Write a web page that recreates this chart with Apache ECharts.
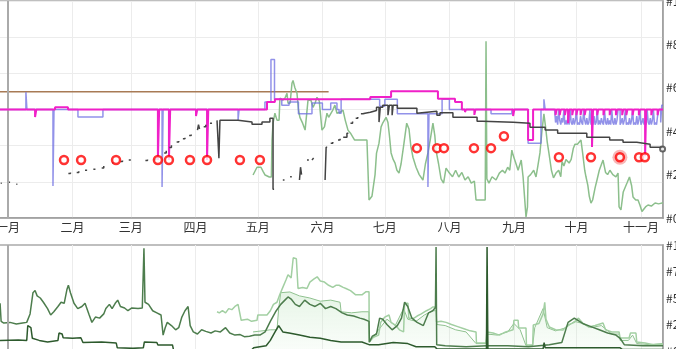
<!DOCTYPE html>
<html><head><meta charset="utf-8">
<script src="https://cdn.jsdelivr.net/npm/echarts@6/dist/echarts.min.js"></script>
<style>html,body{margin:0;padding:0;background:#fff}#c{width:676px;height:349px}</style>
</head><body><div id="c"></div>
<script>
// day offsets are days since 1 Jan 2023
const monthNames = ['一月','二月','三月','四月','五月','六月','七月','八月','九月','十月','十一月','十二月'];
const topTicks = [0,20,40,60,80,100];
const bottomTicks = [0,25,50,75,100];

const brownData = [[-4.5,58.2],[154,58.2]];

const magentaData = [[-4.5,50],[13,46.5],[13.6,50],[22.6,51],[28.8,50],[72,26.7],[72.6,50],[77.3,26.7],[77.9,50],[90.3,47],[90.9,50],[95.6,26.7],[96.2,50],[124.4,53.4],[128.2,54.7],[174,55.8],[184,58.4],[206.5,54.9],[214.7,53.5],[218,50],[219.5,48.8],[220,50],[224,47.5],[224.5,50],[242.6,47],[243.2,50],[249.8,36],[252.2,50],[263,47.4],[263.5,50],[265,47.4],[265.5,50],[267.5,47.4],[268,50],[269,43.7],[269.5,50],[271,47.4],[271.5,50],[273,47.4],[273.5,50],[275,47.4],[275.5,50],[277,47.4],[277.5,50],[280.5,32.7],[281,50],[283,47.4],[283.5,50],[286,47.4],[286.5,50],[289,47.4],[289.5,50],[292,47.4],[292.5,50],[295,47.4],[295.5,50],[297,47.4],[297.5,50],[300,47.4],[300.5,50],[303,47.4],[303.5,50],[306,28.5],[306.5,50],[309,47.4],[309.5,50],[312,47.4],[312.5,50],[314.6,50]];

const blueData = [[-4.5,50],[8.6,58],[9.1,50],[21.6,14.7],[22.1,50],[33.6,46.5],[45.6,50],[74,14.3],[74.5,50],[110.5,45],[111,50],[123.4,53.4],[126.3,73],[128,54.7],[131.5,52],[135,53.5],[139.5,48],[146,53],[151,50],[155,53],[158,50],[159,48.3],[160,54.7],[178.5,51.5],[181,54.7],[187,48],[201.7,14.3],[202.2,48],[208.5,54.7],[212,50],[232,48],[242,50],[249.8,34.5],[256,50],[257.4,54.7],[258,50],
[262.5,50],[263,44],[263.5,47],[264,43],[264.5,50],[265,45],[265.5,43],[266,46],[266.5,44],[267,50],[267.5,43],[268,45],[268.5,43],[269,47],[269.5,43],[270,50],[270.5,44],[271,43],[271.5,46],[272,43],[272.5,45],[273,50],[273.5,43],[274,44],[274.5,43],[275,47],[275.5,44],[276,43],[276.5,50],[277,45],[277.5,43],[278,46],[278.5,43],[279,44],[279.5,50],[280,43],[280.5,45],[281,43],[281.5,47],[282,43],[282.5,44],[283,50],[283.5,43],[284,45],[284.5,43],[285,46],[285.5,44],[286,43],[286.5,50],[287,44],[287.5,43],[288,46],[288.5,43],[289,45],[289.5,43],[290,50],[290.5,44],[291,43],[291.5,46],[292,43],[292.5,45],[293,50],[294,43],[294.5,44],[295,46],[295.5,43],[296,45],[296.5,50],[297,43],[297.5,44],[298,43],[298.5,46],[299,43],[299.5,45],[300,50],[300.5,43],[301,44],[301.5,43],[302,47],[302.5,43],[303,45],[303.5,50],[304,43],[304.5,44],[305,46],[305.5,43],[306,45],[306.5,43],[307,50],[307.5,44],[308,43],[308.5,46],[309,43],[309.5,45],[310,50],[310.5,43],[311,44],[311.5,43],[312,47],[312.5,50],[313.5,44],[314,52],[314.6,52]];

const blackData = [[-3.5,16],[-3,16],[-2.9,null],[0.5,16.5],[1,16.5],[1.1,null],[4,15.5],[4.5,15.5],[4.6,null],
[29,20.5],[30,21],[30.1,null],[33,21],[34,21.5],[34.1,null],[37,22],[38,22],[38.1,null],[41,22.5],[42,22.5],[42.1,null],[45,23],[46,24],[46.1,null],
[50,25.5],[51,25.7],[51.1,null],[54,26],[55,26.5],[55.1,null],[58,26.7],[59,27],[59.1,null],[66,26.5],[67,27],[67.1,null],[70,27],[71,27.6],[71.1,null],
[75,30],[76,31],[76.1,null],[77.5,32.5],[78.5,33.5],[78.6,null],[81,35],[82,35.5],[82.1,null],[84,36.5],[85,37],[85.1,null],[87,38],[88,38.5],[88.1,null],
[91,40.5],[91.5,43],[92,41],[92.1,null],[94,42],[95,43],[95.1,null],[97,43.7],[98,43.7],[98.1,null],
[100.4,45],[101.3,27.6],[101.8,45],[110.5,44.2],[117.2,43.2],[122,44.2],[125.8,46],[127.3,13.3],[127.8,13.3],[127.9,null],
[132,17.5],[132.8,17.5],[132.9,null],[135.5,19],[136.3,19],[136.4,null],[140,17.5],[140.5,23.4],[141,20],[141.1,null],[143.6,26.7],[144.5,26.7],[144.6,null],[146,26.7],[146.8,27.6],[146.9,null],
[152.3,17.5],[152.8,32.6],[153.3,32.6],[153.4,null],[155,34.5],[156,35],[156.1,null],[158.5,36],[159.5,36.5],[159.6,null],[161,37.2],[162.8,39.1],[163.5,39.1],[163.6,null],
[164.5,43.7],[165.5,44.5],[165.6,null],[167,46],[168,46.5],[168.1,null],
[169.5,48],[170.5,48.3],[171.5,48.7],[174,49.5],[177,51],[178.2,44.2],[178.8,51],[180,52],[182.5,47.4],[183.2,52],[184.5,47.4],[185,52],[187,50.6],[196.4,48.3],[196.9,49.2],[206,47.4],[207.5,48.5],[213.7,46.4],[225.3,44.6],[228,44.1],[242.6,43.7],[250.7,41.8],[258,40.5],[264,39.1],[278,37.2],[289,35.9],[295.4,34.9],[302,34],[308.4,32.6],[314.6,32.6]];
const blackEnd = [[314.4,31.8]];

const greenTopData = [[117.7,19.8],[118.5,20.7],[119.6,23.4],[120.5,22.5],[121.5,23.4],[122.5,21.5],[123.5,19.8],[124.4,19.8],[125.5,18.9],[126.5,18.9],[126.8,35.9],[127.3,43.7],[128.2,48.3],[129.2,45.1],[130.2,45.1],[130.6,55.2],[132,54.3],[133,55.2],[134,57.5],[134.5,52.9],[135.5,52.9],[136.4,62.1],[136.9,63.4],[137.8,60],[138.8,57.5],[139.5,50],[140.2,46.4],[141.5,43.7],[142.7,40.5],[143.5,48.3],[144.1,54.3],[145.5,54.3],[146.5,51],[147.5,53],[148.4,55.6],[149.5,54],[150.8,40.5],[152,42],[153.2,48.3],[154,46.4],[154.7,47],[156,49.7],[157,52],[158,48.3],[159.5,48.7],[160.9,49.7],[162,45],[163.3,40.5],[164.5,39.1],[165.7,37.2],[166.5,35.9],[167.6,35.9],[170,35.9],[172.4,35.9],[173.4,8.3],[174.8,10],[176.3,20],[177,29.9],[178.2,34.5],[179.2,42],[180.1,44],[181.6,46.4],[182.5,44],[183.2,38],[184,30],[185,27],[185.9,25.3],[186.8,22],[187.8,20.7],[188.8,25],[190.2,34.5],[191.5,43.7],[192.6,41],[193.5,33],[194.5,28],[196,23.4],[197.5,20],[199.3,17.5],[200.5,25],[201.7,30],[202.8,36],[204.1,43.7],[205,38],[205.6,31],[206.8,25],[208,18],[209.2,16.1],[210.4,23],[212,20.7],[213.5,19],[215,22],[216.5,18.9],[218,21],[219.5,17.5],[221,19],[222.5,16.1],[224,17],[224.8,8.3],[227,8.3],[229.2,8.3],[229.6,81.4],[230,18],[231,16.1],[232.5,19],[234.4,17.5],[236,20.7],[237.5,22],[238.7,20.7],[240,23.4],[241,22],[242,31.3],[242.6,29],[244,25],[245,22],[246.5,26.7],[247.4,18.9],[248.3,18.9],[248.8,0.5],[249.5,5],[249.8,18.9],[251,20],[252.5,22],[253.6,18.9],[254.5,24],[255.5,30],[256.5,40.5],[257.4,48],[258.2,42],[259,35],[259.8,30],[261,22],[262,18.5],[263.2,20.7],[264.5,22],[265.5,19],[266.1,26],[267,24],[268,27],[269.5,25.3],[270.5,27],[271.5,32],[272.3,34],[273.5,34],[275.2,35.9],[276,30],[277,22],[277.6,19],[278.5,15],[279.2,10],[280,6.9],[280.8,8.3],[282,14],[282.9,17.5],[284,22],[285.8,26.7],[287,21],[288,20],[289.1,22],[290.5,20],[292,19],[293,20.7],[293.5,5.1],[294.4,3.7],[295.5,12],[297.3,16.1],[298.5,18.9],[299.5,15],[300.2,9.7],[301.5,8.3],[302.6,8.3],[303.5,6],[304.5,3],[305.4,2.3],[306.2,5.1],[307.4,6],[309,5.5],[310.8,6.9],[312.5,6.5],[314.6,7]];

const circleDays = [26.9,35.1,51.9,72.0,77.3,87.4,95.6,111.4,121.0,196.4,206.1,209.4,223.8,232.0,238.2,264.6,280.0,293.9,303.1,305.9];
const circleVals = [26.7,26.7,26.7,26.7,26.7,26.7,26.7,26.7,26.7,32.2,32.2,32.2,32.2,32.2,37.7,28.0,28.0,28.0,28.0,28.0];
const haloPoint = [[293.9,28.0]];

// bottom panel
const b1Data = [[-4.3,40],[-3.8,45],[-3.3,28],[-2,26.4],[1,27],[4,25.5],[7,26.4],[9,27],[10.6,35],[12,55],[13,57],[14,52],[15.5,50],[17,46],[19,40],[20.5,34],[22,37],[24,42],[25.5,46],[27,45],[28.3,58],[29,62],[30,55],[31.7,45],[33.5,40],[35.5,42],[37,45],[39,34],[40.3,27],[42,32],[44,31],[46,35],[47,40],[48.7,44],[50,40],[51.5,45],[52.7,48],[54,42],[56,40.6],[57.6,38],[59.5,40.6],[62.5,40],[64.5,40.6],[65.3,97],[65.8,46],[67.5,44],[69.5,38],[71.5,36],[73.5,34],[74.5,15],[75.5,22],[76.5,27],[78.5,24],[80.5,20],[82,22],[83.5,32],[85,38],[86.5,42],[87.5,24],[89,18],[91,16],[93,20],[95,18.5],[97.5,17],[99.5,19],[102,18],[104.5,22],[106.5,17],[109,15],[111.5,15.5],[113.5,13.5],[116,14],[118.5,15],[121,15],[123.5,18],[126,28],[128.5,37],[131,44],[133,48],[134.5,51],[136,49],[138,44],[140,42],[142.5,48],[145,44],[147.5,42],[150,45],[152.5,40],[155,42],[157.5,40],[160.5,36],[163,34],[166,33],[169,31],[171,30],[173.4,28],[173.6,8.5],[175,14],[177,16],[178.5,31],[180,30],[182,25],[184.5,20],[187,24],[189,31],[190.5,46],[192,42],[194,31],[196.5,27],[199.5,24],[202,36],[204,38],[205.3,41],[205.6,98],[205.9,6],[210,5],[220,4],[230,5],[240,5],[250,4],[260,6],[266,8],[269,27],[272,31],[276,26],[280,23],[284,20],[288,17],[292,15],[294,12],[296,6],[305,5],[314.6,5]];

const b2Data = [[-4.3,10],[5,10.4],[9,10],[9.5,24],[11,22],[11.7,12],[15,10],[19,8.5],[24,10],[24.5,17],[26,16],[26.5,12.5],[31,12],[35,12.5],[36,8],[45,8.5],[52,7.5],[52.5,3],[60,2.5],[65,3],[65.5,8.5],[71.5,8],[72,5.7],[79,5.7],[79.5,1],[100,1],[117,1],[118,3],[124,5],[126,10],[128,17],[130,24],[132,18],[135,17],[140,15],[145,13],[150,12],[155,10],[160,8.5],[170,8.5],[173.4,6],[178,6],[185,8],[192,7],[196,4],[205,4],[206,2],[229.8,2],[230.1,98],[230.5,2],[257,2],[257.5,8],[258,3],[270,3],[294,3],[295,1.5],[314.6,1.5]];

const b3Data = [[100.4,37],[101.5,36],[103,38],[104.5,36],[106,40],[107.5,39],[109,42],[110.5,44],[111.4,43],[112,29],[115,30],[117,28],[119.6,29],[120,34],[124.4,34],[126,38],[127.5,44],[129.2,46],[130.5,53],[132,60],[133.5,67],[134.5,72],[136,69],[137,88],[138.5,87],[139.3,59],[141.5,60],[143.6,59],[145,65],[147,68],[148.5,70],[150,66],[152,65],[154,62],[156,60],[157.5,62],[159,62],[161,60],[162.3,59],[164.5,57],[167,53],[170,53],[172,56],[173.4,56],[173.5,8.5],[175.5,13],[178,15],[179,27],[181,32],[183,34],[184,27],[186,24.5],[188,20],[190,18],[190.5,45],[192.1,45],[192.5,31],[195,31],[196.5,33],[198.5,35],[201,38],[203,40],[204,41.5],[205.6,41.5],[205.8,27.4],[208,28],[210.4,27],[213,25],[216,23],[219,21],[222,19],[224.8,18],[225,7.5],[229.6,7.5],[230,18],[233,17],[236,15],[239,18],[242.6,20],[243,29],[245,29],[245.3,21.7],[248.8,21.7],[249,5.7],[252,5.7],[252.3,24.5],[255,26],[257,35],[257.8,46],[258.4,30],[260,22.6],[263,20],[266.6,19.8],[269,24.5],[272,27],[274,31],[276.2,26],[279,22.6],[282,24],[285.8,26.4],[287,20],[290,18],[293.5,18],[294,12.3],[298.3,12.3],[299,17],[301.6,17],[302,8.5],[306,7.5],[310,6],[314.6,6.5]];

const b4Data = [[117.7,18],[122,19],[126,20],[129.2,20],[130,40],[131,55],[135.4,55.7],[140,52],[145,50],[150,47],[155,48],[159.5,46],[160,37],[165,36],[170,37],[173.4,37],[173.5,8],[178,20],[182,30],[186,24],[190,40],[192,30],[196,28],[200,34],[204,38],[205.6,38],[206,25],[210,24],[215,20],[220,18],[224.8,7],[229.6,7],[230,16],[235,15],[240,18],[243,26],[246,20],[248.8,5],[252,5],[253,22],[257,40],[259,22],[263,19],[268,22],[272,28],[276,26],[280,22],[285,24],[290,16],[293.5,16],[294,10],[298,10],[300,15],[302,7],[308,6],[314.6,7]];

const t0 = new Date(2023,0,1).getTime();
const DAY = 86400000;
const toT = d => t0 + d*DAY;
const conv = arr => arr.map(p => [toT(p[0]), p[1]]);
const xMin = toT(-4.32), xMax = toT(314.6);
const FONT = '"Noto Sans CJK SC", "Noto Sans", sans-serif';
const yearLine = {silent:true, symbol:'none', label:{show:false}, lineStyle:{color:'#aaa', width:2, type:'solid'}, data:[{xAxis:t0}]};

function xAxisCfg(grid, showLabel){
  return {type:'time', gridIndex:grid, min:xMin, max:xMax,
    minInterval:28*DAY, maxInterval:31*DAY,
    axisLine:{show:showLabel, lineStyle:{color:'#999', width:1.5}},
    axisTick:{show:false},
    axisLabel:{show:showLabel, margin:3, color:'#333', fontSize:12, fontFamily:FONT, hideOverlap:false,
      formatter:(v)=>monthNames[new Date(v).getMonth()]},
    splitLine:{show:true, lineStyle:{color:'#ececec', width:1}}};
}

const chart = echarts.init(document.getElementById('c'), null, {renderer:'canvas'});
chart.setOption({
  animation:false,
  grid:[
    {left:-1, right:13, top:1, height:217, show:true, borderColor:'#aaa', borderWidth:1.5, containLabel:false, outerBoundsMode:'none'},
    {left:-1, right:13, top:245, height:106, show:true, borderColor:'#aaa', borderWidth:1.5, containLabel:false, outerBoundsMode:'none'}
  ],
  xAxis:[xAxisCfg(0,true), xAxisCfg(1,false)],
  yAxis:[
    {type:'value', gridIndex:0, position:'left', min:0, max:6, interval:1, axisLabel:{show:false}, axisLine:{show:false}, axisTick:{show:false}, splitLine:{show:true, lineStyle:{color:'#ececec'}}},
    {type:'value', gridIndex:0, position:'right', min:topTicks[0], max:topTicks[topTicks.length-1], interval:topTicks[1]-topTicks[0],
      axisLine:{show:true, lineStyle:{color:'#999', width:1.5}}, axisTick:{show:false}, splitLine:{show:false},
      axisLabel:{margin:3, color:'#333', fontSize:12, fontFamily:FONT, formatter:'#{value}'}},
    {type:'value', gridIndex:1, position:'right', min:bottomTicks[0], max:bottomTicks[bottomTicks.length-1], interval:bottomTicks[1]-bottomTicks[0],
      axisLine:{show:true, lineStyle:{color:'#999', width:1.5}}, axisTick:{show:false}, splitLine:{show:false},
      axisLabel:{margin:3, color:'#333', fontSize:12, fontFamily:FONT, formatter:'#{value}'}}
  ],
  series:[
    {type:'line', xAxisIndex:0, yAxisIndex:1, data:conv(brownData), showSymbol:false, lineStyle:{color:'#a87a55', width:1.5}, markLine:yearLine, z:2},
    {type:'line', xAxisIndex:0, yAxisIndex:1, data:conv(greenTopData), showSymbol:false, lineStyle:{color:'#8cbf8c', width:1.5}, z:3},
    {type:'line', xAxisIndex:0, yAxisIndex:1, data:conv(blueData), step:'end', showSymbol:false, lineStyle:{color:'rgba(110,110,225,0.75)', width:1.5}, z:4},
    {type:'line', xAxisIndex:0, yAxisIndex:1, data:conv(magentaData), step:'end', showSymbol:false, lineStyle:{color:'#f020c8', width:2}, z:5},
    {type:'line', xAxisIndex:0, yAxisIndex:1, data:conv(blackData), step:'end', connectNulls:false, showSymbol:false, lineStyle:{color:'#444', width:1.5}, z:6},
    {type:'scatter', xAxisIndex:0, yAxisIndex:1, data:conv(blackEnd), symbol:'emptyCircle', symbolSize:5, itemStyle:{color:'#444', borderColor:'#444', borderWidth:1.2}, z:7},
    {type:'scatter', xAxisIndex:0, yAxisIndex:1, data:conv(haloPoint), symbol:'circle', symbolSize:15, itemStyle:{color:'rgba(240,90,90,0.55)'}, z:7},
    {type:'scatter', xAxisIndex:0, yAxisIndex:1, data:circleDays.map((d,i)=>[toT(d), circleVals[i]]), symbol:'circle', symbolSize:8, itemStyle:{color:'#fff', borderColor:'#ff0000', borderWidth:2.5}, z:8},

    {type:'line', xAxisIndex:1, yAxisIndex:2, data:conv(b4Data), showSymbol:false, lineStyle:{color:'#8fc18f', width:1},
      areaStyle:{color:new echarts.graphic.LinearGradient(0,0,0,1,[{offset:0,color:'rgba(170,220,170,0.45)'},{offset:1,color:'rgba(215,240,215,0.2)'}])}, markLine:yearLine, z:2},
    {type:'line', xAxisIndex:1, yAxisIndex:2, data:conv(b3Data), showSymbol:false, lineStyle:{color:'#a2cfa2', width:1.5}, z:3},
    {type:'line', xAxisIndex:1, yAxisIndex:2, data:conv(b1Data), showSymbol:false, lineStyle:{color:'#4d7d4d', width:1.5}, z:4},
    {type:'line', xAxisIndex:1, yAxisIndex:2, data:conv(b2Data), showSymbol:false, lineStyle:{color:'#2d5a2d', width:1.5}, z:5}
  ]
});
</script></body></html>
